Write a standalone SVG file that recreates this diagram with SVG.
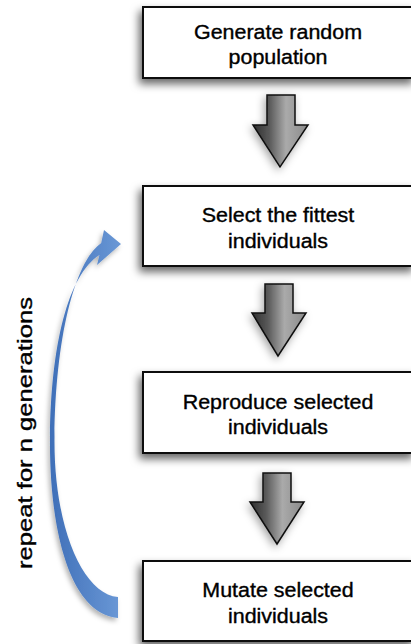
<svg xmlns="http://www.w3.org/2000/svg" width="411" height="644" viewBox="0 0 411 644">
<defs>
<filter id="sh" x="-20%" y="-30%" width="140%" height="170%">
<feDropShadow dx="-3" dy="5" stdDeviation="4" flood-color="#000" flood-opacity="0.6"/>
</filter>
<filter id="ash" x="-50%" y="-30%" width="200%" height="170%">
<feDropShadow dx="-2" dy="3" stdDeviation="4" flood-color="#000" flood-opacity="0.35"/>
</filter>
<filter id="bsh" x="-50%" y="-10%" width="200%" height="130%">
<feDropShadow dx="-2" dy="3" stdDeviation="2.5" flood-color="#000" flood-opacity="0.3"/>
</filter>
<linearGradient id="ag" x1="0" y1="0" x2="1" y2="0">
<stop offset="0" stop-color="#2e2e2e"/>
<stop offset="0.3" stop-color="#5a5a5a"/>
<stop offset="0.6" stop-color="#aaaaaa"/>
<stop offset="1" stop-color="#8a8a8a"/>
</linearGradient>
<linearGradient id="bg" x1="0" y1="0" x2="1" y2="0">
<stop offset="0" stop-color="#3f6fb8"/>
<stop offset="1" stop-color="#6a98d6"/>
</linearGradient>
<style>
.box{fill:#fff;stroke:#111;stroke-width:2;filter:url(#sh)}
.t{font-family:"Liberation Sans",Arial,Helvetica,sans-serif;font-size:19.5px;fill:#000;stroke:#000;stroke-width:0.35;text-anchor:middle}
.arr{fill:url(#ag);stroke:#111;stroke-width:1.5;stroke-linejoin:miter;filter:url(#ash)}
</style>
</defs>
<rect width="411" height="644" fill="#fff"/>

<g id="connectors">
<path class="arr" d="M267,95 H295 V125 H308 L280,167 L253,125 H267 Z"/>
<path class="arr" d="M265,284 H293 V313 H306 L278,356 L252,313 H265 Z"/>
<path class="arr" d="M263,473 H291 V502 H304 L277,544 L250,502 H263 Z"/>
<path id="repeat-arrow" fill="url(#bg)" filter="url(#bsh)" d="M118,618 C70,614 49,530 50,437 C51,345 68,275 99.4,255 L97,265 L121,244 L104,230 L101.2,243 C74,262 55.5,340 54.5,437 C53.5,525 82,594 118,597 Z"/>
</g>

<g id="node-generate">
<rect class="box" x="143" y="7" width="272" height="71"/>
<text class="t" transform="translate(278,38.5) scale(1.1,1)">Generate random</text>
<text class="t" transform="translate(278,63.5) scale(1.1,1)">population</text>
</g>

<g id="node-select">
<rect class="box" x="143" y="186" width="272" height="80"/>
<text class="t" transform="translate(278,222) scale(1.1,1)">Select the fittest</text>
<text class="t" transform="translate(278,247.5) scale(1.1,1)">individuals</text>
</g>

<g id="node-reproduce">
<rect class="box" x="143" y="372" width="272" height="81"/>
<text class="t" transform="translate(278,408.5) scale(1.1,1)">Reproduce selected</text>
<text class="t" transform="translate(278,434) scale(1.1,1)">individuals</text>
</g>

<g id="node-mutate">
<rect class="box" x="143" y="561" width="272" height="80"/>
<text class="t" transform="translate(278,597) scale(1.1,1)">Mutate selected</text>
<text class="t" transform="translate(278,622.5) scale(1.1,1)">individuals</text>
</g>

<g id="label-repeat">
<text class="t" transform="translate(32,433) rotate(-90) scale(1.25,1)" style="font-size:20.5px">repeat for n generations</text>
</g>
</svg>
